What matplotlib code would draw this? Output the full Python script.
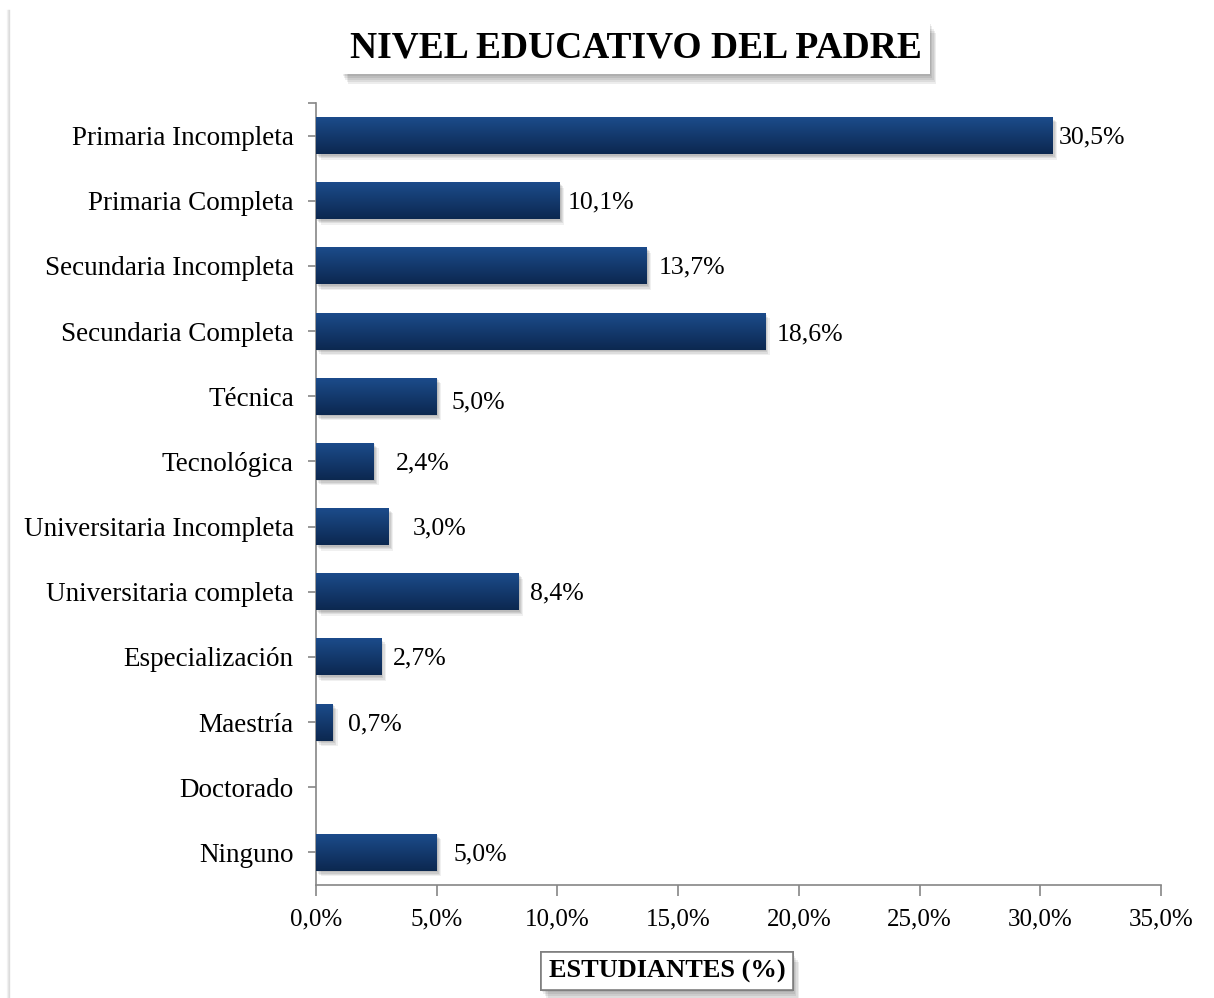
import numpy as np
import matplotlib
matplotlib.use("Agg")
import matplotlib.pyplot as plt
import matplotlib.patheffects as pe
from matplotlib.colors import LinearSegmentedColormap
from matplotlib.patches import Rectangle
import matplotlib.transforms as mtransforms

plt.rcParams['font.family'] = ['Liberation Serif', 'DejaVu Serif']

categories = ["Primaria Incompleta", "Primaria Completa", "Secundaria Incompleta",
              "Secundaria Completa", "Técnica", "Tecnológica", "Universitaria Incompleta",
              "Universitaria completa", "Especialización", "Maestría", "Doctorado", "Ninguno"]
values = [30.5, 10.1, 13.7, 18.6, 5.0, 2.4, 3.0, 8.4, 2.7, 0.7, 0.0, 5.0]
value_labels = ["30,5%", "10,1%", "13,7%", "18,6%", "5,0%", "2,4%", "3,0%", "8,4%",
                "2,7%", "0,7%", "", "5,0%"]
xtick_vals = [0, 5, 10, 15, 20, 25, 30, 35]
xtick_labels = ["0,0%", "5,0%", "10,0%", "15,0%", "20,0%", "25,0%", "30,0%", "35,0%"]

# style: label offsets in pixels (x, y)
label_dx = [6, 8, 12, 12, 15, 22, 24, 11, 12, 15, 0, 17]
label_dy = [-2, -2, -2, -3, -6, -2, -2, -2, -2, -2, 0, -2]

W, H = 1214, 998
fig = plt.figure(figsize=(W / 100, H / 100), dpi=100)
fig.patch.set_facecolor('white')

# chart area shadow on left
for i, a in enumerate([0.25, 0.15, 0.08]):
    fig.add_artist(plt.Line2D([(9 - i) / W, (9 - i) / W], [0, (H - 10) / H],
                              transform=fig.transFigure, color='gray', alpha=a, lw=1))

ax = fig.add_axes([316 / W, 113 / H, 845 / W, 782 / H])
n = len(categories)
ypos = np.arange(n)
bar_h = 0.57

cmap = LinearSegmentedColormap.from_list('bar', ['#1c4c8c', '#0c2850'])
grad = np.linspace(0, 1, 64).reshape(-1, 1)

for y, v in zip(ypos, values):
    if v <= 0:
        continue
    for k, a in enumerate([0.08, 0.08, 0.08, 0.06]):
        so = mtransforms.offset_copy(ax.transData, fig=fig, x=1 + k * 1.2, y=-(1.5 + k * 1.3), units='dots')
        ax.add_patch(Rectangle((0, y - bar_h / 2), v, bar_h, transform=so,
                               facecolor='black', alpha=a, edgecolor='none', zorder=1))
    rect = Rectangle((0, y - bar_h / 2), v, bar_h, facecolor='#163e74', edgecolor='none', zorder=2)
    ax.add_patch(rect)
    im = ax.imshow(grad, cmap=cmap, aspect='auto', extent=(0, v, y + bar_h / 2, y - bar_h / 2),
                   zorder=3, interpolation='bilinear')
    im.set_clip_path(rect)

ax.set_xlim(0, 35)
ax.set_ylim(n - 0.5, -0.5)
ax.set_yticks(ypos)
ax.set_yticklabels(categories)
ax.set_xticks(xtick_vals)
ax.set_xticklabels(xtick_labels)
ax.set_yticks([-0.5], minor=True)

for s in ['top', 'right']:
    ax.spines[s].set_visible(False)
for s in ['left', 'bottom']:
    ax.spines[s].set_color('#868686')
    ax.spines[s].set_linewidth(1.2)

ax.tick_params(axis='y', which='both', direction='out', length=6, width=1.2, color='#868686',
               pad=10, labelsize=19.5)
ax.tick_params(axis='x', direction='out', length=8, width=1.2, color='#868686',
               pad=9, labelsize=18)

for y, v, lab, dx, dy in zip(ypos, values, value_labels, label_dx, label_dy):
    if not lab:
        continue
    t = mtransforms.offset_copy(ax.transData, fig=fig, x=dx, y=dy, units='dots')
    ax.text(v, y, lab, transform=t, ha='left', va='center', fontsize=18.5, color='black', zorder=5)

shadow = [pe.withSimplePatchShadow(offset=(0.5 + k, -(1.5 + 1.5 * k)), shadow_rgbFace='black',
                                   alpha=0.07) for k in range(5)] + [pe.Normal()]

title = fig.text(636 / W, (H - 48) / H, "NIVEL EDUCATIVO DEL PADRE", ha='center', va='center',
                 fontsize=27, fontweight='bold',
                 bbox=dict(boxstyle='square,pad=0.22', fc='white', ec='none'))
title.get_bbox_patch().set_path_effects(shadow)

xl = fig.text(667 / W, (H - 971) / H, "ESTUDIANTES (%)", ha='center', va='center',
              fontsize=19, fontweight='bold',
              bbox=dict(boxstyle='square,pad=0.28', fc='white', ec='#808080', lw=1.2))
xl.get_bbox_patch().set_path_effects(shadow)

fig.savefig('out.png', dpi=100, facecolor='white')
